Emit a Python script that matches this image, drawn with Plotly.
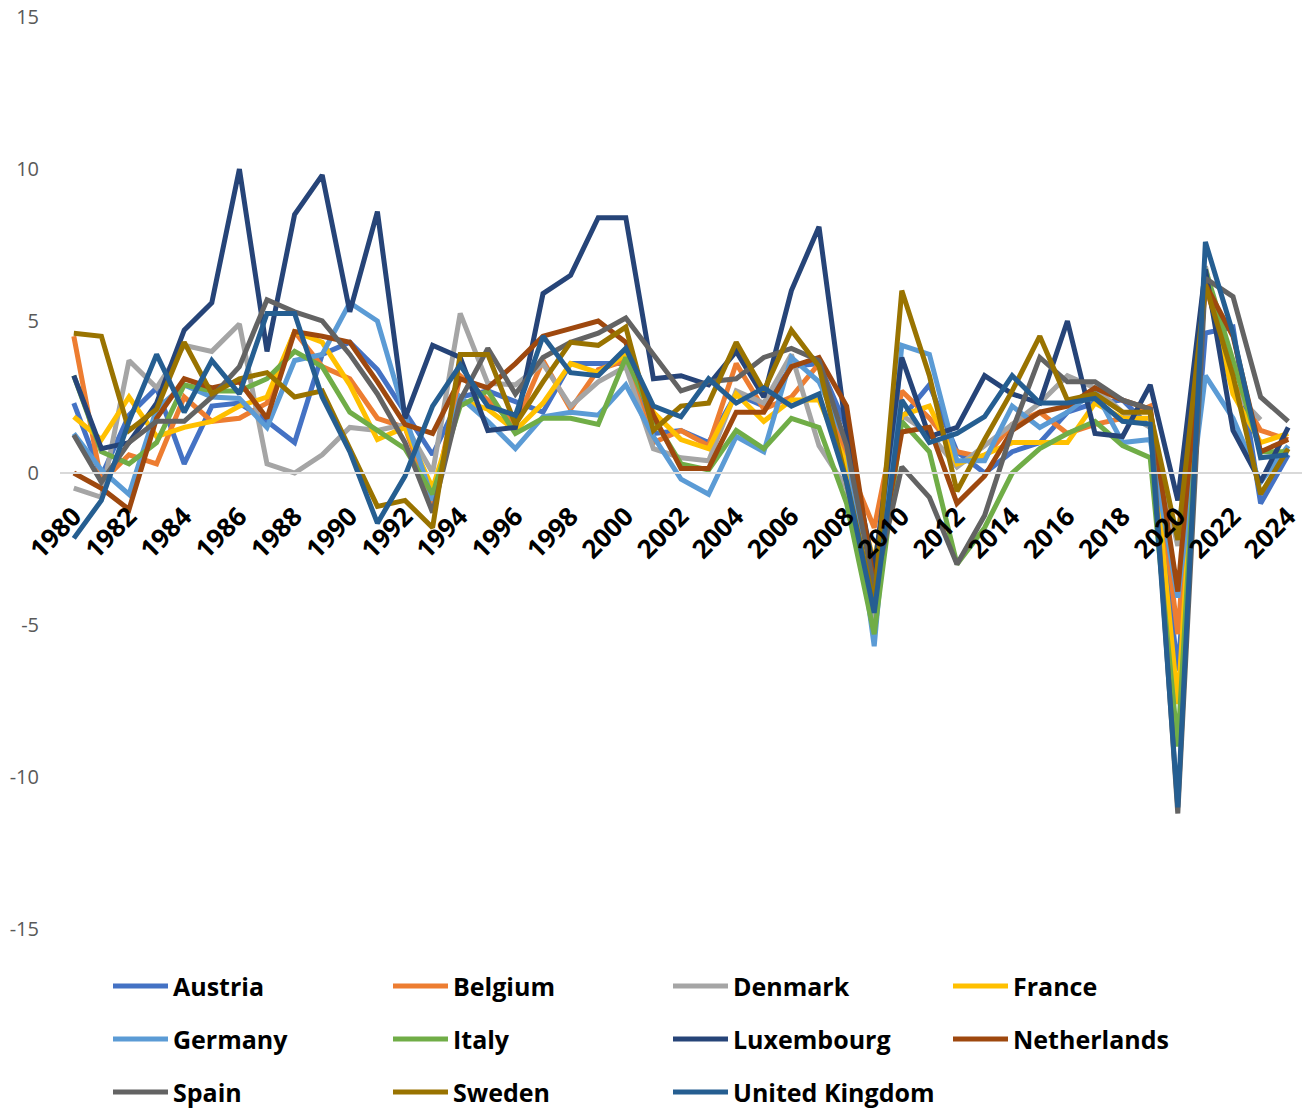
import plotly.graph_objects as go

# Real GDP growth, % per year
years = list(range(1980, 2025))
countries = ["Austria", "Belgium", "Denmark", "France", "Germany", "Italy",
             "Luxembourg", "Netherlands", "Spain", "Sweden", "United Kingdom"]

austria = [2.3, -0.1, 1.9, 2.8, 0.3, 2.2, 2.3, 1.7, 1.0, 3.9, 4.3, 3.4, 2.0, 0.6, 2.5,
           2.7, 2.35, 2.0, 3.6, 3.6, 3.6, 1.3, 1.4, 1.0, 2.6, 2.2, 3.5, 3.6, 1.5, -3.8,
           1.8, 2.9, 0.7, 0.0, 0.7, 1.0, 2.0, 2.3, 2.4, 1.5, -6.5, 4.6, 4.8, -1.0, 0.6]
belgium = [4.5, -0.3, 0.6, 0.3, 2.5, 1.7, 1.8, 2.3, 4.65, 3.5, 3.1, 1.8, 1.5, -1.0, 3.2,
           2.4, 1.6, 3.7, 2.1, 3.4, 3.7, 1.0, 1.4, 0.9, 3.6, 2.1, 2.5, 3.6, 0.4, -1.8,
           2.7, 1.8, 0.7, 0.5, 1.6, 2.0, 1.3, 1.6, 1.8, 2.2, -5.3, 6.2, 3.0, 1.4, 1.1]
denmark = [-0.5, -0.8, 3.7, 2.8, 4.2, 4.0, 4.9, 0.3, 0.0, 0.6, 1.5, 1.4, 1.6, 0.0, 5.25,
           2.95, 2.9, 3.6, 2.2, 3.0, 3.5, 0.8, 0.5, 0.4, 2.7, 2.3, 3.9, 0.9, -0.5, -4.9,
           1.9, 1.3, 0.2, 0.9, 1.6, 2.3, 3.2, 2.8, 2.0, 1.5, -2.4, 6.8, 2.7, 1.75, None]
france = [1.85, 1.1, 2.5, 1.2, 1.5, 1.7, 2.2, 2.5, 4.65, 4.3, 2.9, 1.1, 1.5, -0.5, 2.4,
          2.1, 1.4, 2.3, 3.6, 3.3, 3.9, 2.0, 1.1, 0.8, 2.6, 1.7, 2.4, 2.4, 0.3, -2.9,
          1.9, 2.2, 0.3, 0.6, 1.0, 1.0, 1.0, 2.3, 1.8, 1.8, -7.6, 6.4, 2.6, 1.0, 1.3]
germany = [1.3, 0.1, -0.7, 2.1, 2.9, 2.5, 2.45, 1.5, 3.7, 3.9, 5.6, 5.0, 1.9, -0.9, 2.5,
           1.7, 0.8, 1.85, 2.0, 1.9, 2.9, 1.2, -0.2, -0.7, 1.2, 0.7, 3.8, 3.0, 1.0, -5.7,
           4.2, 3.9, 0.4, 0.4, 2.2, 1.5, 2.0, 2.7, 1.0, 1.1, -4.1, 3.2, 1.8, -0.3, 0.9]
italy = [3.2, 0.7, 0.3, 1.0, 2.9, 2.7, 2.7, 3.1, 4.0, 3.5, 2.0, 1.4, 0.8, -0.7, 2.2,
         2.7, 1.3, 1.8, 1.8, 1.6, 3.8, 1.8, 0.3, 0.1, 1.4, 0.8, 1.8, 1.5, -1.0, -5.3,
         1.7, 0.7, -3.0, -1.8, 0.0, 0.8, 1.3, 1.7, 0.9, 0.5, -9.0, 6.7, 3.7, 0.7, 0.7]
luxembourg = [3.2, 0.8, 1.0, 2.3, 4.7, 5.6, 10.0, 4.0, 8.5, 9.8, 5.3, 8.6, 1.8, 4.2, 3.8,
              1.4, 1.5, 5.9, 6.5, 8.4, 8.4, 3.1, 3.2, 2.9, 4.0, 2.5, 6.0, 8.1, 1.3, -3.2,
              3.8, 1.2, 1.5, 3.2, 2.6, 2.3, 5.0, 1.3, 1.2, 2.9, -0.9, 6.7, 1.4, -0.3, 1.5]
netherlands = [0.0, -0.5, -1.2, 1.8, 3.1, 2.8, 3.0, 1.8, 4.65, 4.5, 4.3, 3.0, 1.6, 1.3, 3.1,
               2.8, 3.6, 4.5, 4.75, 5.0, 4.3, 1.9, 0.15, 0.15, 2.0, 2.0, 3.5, 3.8, 2.2, -3.7,
               1.35, 1.5, -1.0, -0.1, 1.4, 2.0, 2.2, 2.8, 2.4, 2.1, -3.9, 6.2, 4.5, 0.7, 1.1]
spain = [1.25, -0.3, 1.0, 1.7, 1.7, 2.5, 3.5, 5.7, 5.3, 5.0, 3.9, 2.6, 1.0, -1.3, 2.4,
         4.1, 2.6, 3.8, 4.3, 4.6, 5.1, 3.9, 2.7, 3.0, 3.1, 3.8, 4.1, 3.7, 0.9, -3.8,
         0.2, -0.8, -3.0, -1.4, 1.4, 3.8, 3.0, 3.0, 2.4, 2.1, -11.2, 6.4, 5.8, 2.5, 1.7]
sweden = [4.6, 4.5, 1.4, 2.1, 4.3, 2.6, 3.1, 3.3, 2.5, 2.7, 0.8, -1.1, -0.9, -1.8, 3.9,
          3.9, 1.6, 3.0, 4.3, 4.2, 4.8, 1.4, 2.2, 2.3, 4.3, 2.7, 4.7, 3.5, -0.3, -4.3,
          6.0, 3.2, -0.6, 1.1, 2.7, 4.5, 2.4, 2.6, 2.0, 2.0, -2.2, 6.2, 3.2, -0.7, 0.8]
united_kingdom = [-2.15, -0.9, 1.7, 3.9, 2.0, 3.7, 2.6, 5.25, 5.25, 2.5, 0.7, -1.65, -0.1, 2.2, 3.55,
                  2.2, 1.9, 4.5, 3.3, 3.2, 4.1, 2.2, 1.85, 3.1, 2.3, 2.8, 2.2, 2.6, -0.3, -4.6,
                  2.4, 1.0, 1.3, 1.85, 3.2, 2.3, 2.3, 2.45, 1.7, 1.6, -11.0, 7.6, 4.6, 0.5, 0.6]

series = [austria, belgium, denmark, france, germany, italy,
          luxembourg, netherlands, spain, sweden, united_kingdom]
colors = ["#4472C4", "#ED7D31", "#A5A5A5", "#FFC000", "#5B9BD5", "#70AD47",
          "#264478", "#9E480E", "#636363", "#997300", "#255E91"]

y_ticks = [-15, -10, -5, 0, 5, 10, 15]
y_tick_text = ["-15", "-10", "-5", "0", "5", "10", "15"]
x_ticks = list(range(1980, 2025, 2))

W, H = 1311, 1111
L, R, T, B = 60, 9, 17, 182
plot_w, plot_h = W - L - R, H - T - B
FONT = "Open Sans"

fig = go.Figure()
for name, vals, col in zip(countries, series, colors):
    fig.add_trace(go.Scatter(x=years, y=vals, name=name, mode="lines",
                             line=dict(color=col, width=5), connectgaps=False))

# Hand-built legend below the plot: 4 columns, 3 rows
def px_x(px):
    return (px - L) / plot_w

def px_y(py):
    return (H - B - py) / plot_h

shapes, annotations = [], []
for i, (name, col) in enumerate(zip(countries, colors)):
    row, c = divmod(i, 4)
    x0 = 113 + 280 * c
    yc = 986 + 53 * row
    shapes.append(dict(type="line", xref="paper", yref="paper",
                       x0=px_x(x0), x1=px_x(x0 + 55), y0=px_y(yc), y1=px_y(yc),
                       line=dict(color=col, width=5)))
    annotations.append(dict(text=f"<b>{name}</b>", xref="paper", yref="paper",
                            x=px_x(x0 + 58), y=px_y(yc), xanchor="left", yanchor="middle",
                            showarrow=False, font=dict(family=FONT, size=25, color="#000000")))

fig.update_layout(
    width=W, height=H,
    margin=dict(l=L, r=R, t=T, b=B, pad=0, autoexpand=False),
    paper_bgcolor="white", plot_bgcolor="white",
    showlegend=False,
    shapes=shapes, annotations=annotations,
    font=dict(family=FONT),
    xaxis=dict(range=[1979.5, 2024.5], tickmode="array", tickvals=x_ticks,
               ticktext=[f"<b>{y}</b>" for y in x_ticks], tickangle=-45,
               tickfont=dict(family=FONT, size=26, color="#000000"),
               showgrid=False, zeroline=False, showline=True, linecolor="#D9D9D9",
               linewidth=1.5, anchor="free", position=0.5, ticks="",
               ticklabelstandoff=17, automargin=False),
    yaxis=dict(range=[-15, 15], tickmode="array", tickvals=y_ticks, ticktext=y_tick_text,
               tickfont=dict(family=FONT, size=20, color="#595959"),
               showgrid=False, zeroline=False, showline=False, ticks="",
               ticklabelstandoff=20, automargin=False),
)

fig.write_html("out.html")
